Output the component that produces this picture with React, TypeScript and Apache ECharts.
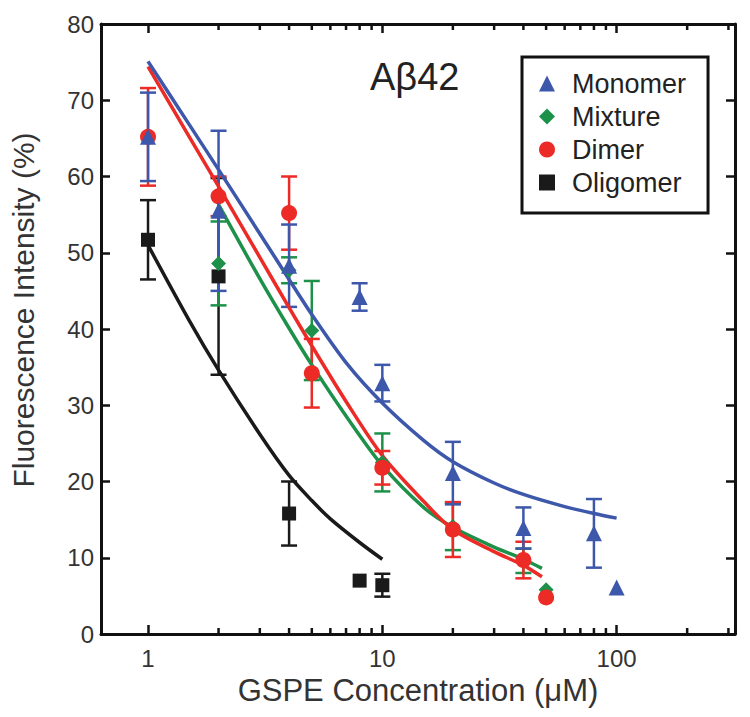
import React, { useEffect, useRef } from 'react';
import * as echarts from 'echarts';

const FONT = '"Liberation Sans", Arial, Helvetica, sans-serif';

const COLOR_MONOMER = '#3d57ab';
const COLOR_MIXTURE = '#1d9149';
const COLOR_DIMER = '#ec2a26';
const COLOR_OLIGOMER = '#1a1a1a';

// Measured points (concentration µM, fluorescence %, error)
const monomerConc = [1, 2, 4, 8, 10, 20, 40, 80, 100];
const monomerMean = [65.2, 55.5, 48.3, 44.2, 32.9, 21.1, 13.9, 13.2, 6.1];
const monomerErr = [5.8, 10.5, 5.4, 1.8, 2.4, 4.1, 2.7, 4.5, 0];

const mixtureConc = [2, 4, 5, 10, 20, 40, 50];
const mixtureMean = [48.6, 47.7, 39.8, 22.5, 14.1, 9.6, 5.8];
const mixtureErr = [5.5, 1.7, 6.5, 3.8, 3.1, 1.6, 0];

const dimerConc = [1, 2, 4, 5, 10, 20, 40, 50];
const dimerMean = [65.2, 57.4, 55.2, 34.2, 21.8, 13.7, 9.7, 4.8];
const dimerErr = [6.4, 2.6, 4.8, 4.5, 2.2, 3.6, 2.4, 0];

const oligomerConc = [1, 2, 4, 8, 10];
const oligomerMean = [51.7, 46.9, 15.8, 7.0, 6.4];
const oligomerErr = [5.2, 12.9, 4.2, 0, 1.5];

// Fitted curves
const monomerFitX = [1, 1.5, 2, 3, 4, 5, 7, 10, 15, 20, 30, 40, 60, 80, 100];
const monomerFitY = [75.1, 66.8, 60.9, 52.5, 46.5, 41.9, 35.6, 30.3, 25.4, 22.6, 19.8, 18.3, 16.7, 15.8, 15.2];

const dimerFitX = [1, 1.5, 2, 3, 4, 5, 7, 10, 15, 20, 30, 40, 48];
const dimerFitY = [74.4, 65.2, 58.7, 49.4, 42.8, 37.8, 30.5, 23.4, 17.4, 13.7, 10.8, 9.0, 7.5];

const mixtureFitX = [2, 3, 4, 5, 7, 10, 15, 20, 30, 40, 48];
const mixtureFitY = [56.3, 46.6, 40.1, 35.3, 28.6, 22.1, 16.6, 14.0, 11.4, 9.8, 8.6];

const oligomerFitX = [1, 1.5, 2, 3, 4, 5, 6, 8, 10];
const oligomerFitY = [51.0, 41.1, 34.6, 26.2, 20.8, 17.5, 15.1, 12.0, 9.8];

// Axis ticks
const yTicks = { min: 0, max: 80, interval: 10 };
const xRange = { min: 0.63, max: 320 };
const minorTickValues = [2, 3, 4, 5, 6, 7, 8, 9, 20, 30, 40, 50, 60, 70, 80, 90, 200, 300];

const zip = (xs: number[], ys: number[]) => xs.map((x, i) => [x, ys[i]]);

function errorSeries(name: string, xs: number[], ys: number[], es: number[], color: string) {
  return {
    type: 'custom',
    name: name + ' error',
    silent: true,
    z: 2,
    dimensions: ['x', 'y', 'e'],
    encode: { x: 0, y: 1 },
    data: xs.map((x, i) => [x, ys[i], es[i]]).filter((d) => d[2] > 0),
    renderItem: (params: any, api: any) => {
      const x = api.value(0);
      const y = api.value(1);
      const e = api.value(2);
      const top = api.coord([x, y + e]);
      const bot = api.coord([x, y - e]);
      const hw = 8;
      const style = { stroke: color, lineWidth: 2.5, fill: 'none' };
      return {
        type: 'group',
        children: [
          { type: 'line', shape: { x1: top[0], y1: top[1], x2: bot[0], y2: bot[1] }, style },
          { type: 'line', shape: { x1: top[0] - hw, y1: top[1], x2: top[0] + hw, y2: top[1] }, style },
          { type: 'line', shape: { x1: bot[0] - hw, y1: bot[1], x2: bot[0] + hw, y2: bot[1] }, style },
        ],
      };
    },
  };
}

function fitSeries(name: string, xs: number[], ys: number[], color: string) {
  return {
    type: 'line',
    name: name + ' fit',
    data: zip(xs, ys),
    smooth: 0.3,
    showSymbol: false,
    symbol: 'none',
    silent: true,
    z: 3,
    lineStyle: { color, width: 3.5 },
  };
}

function pointSeries(name: string, xs: number[], ys: number[], color: string, symbol: string, size: number) {
  return {
    type: 'scatter',
    name,
    data: zip(xs, ys),
    symbol,
    symbolSize: size,
    z: 4,
    itemStyle: { color, opacity: 1 },
  };
}

const isDecade = (v: number) => Math.abs(Math.log10(v) - Math.round(Math.log10(v))) < 1e-6;

export default function App() {
  const ref = useRef<HTMLDivElement>(null);
  useEffect(() => {
    const chart = echarts.init(ref.current!, null, { renderer: 'svg' });
    const axisLine = { show: true, onZero: false, lineStyle: { color: '#111', width: 3 } };
    const tickStyle = { color: '#111', width: 2.5 };
    const option: any = {
      animation: false,
      backgroundColor: '#fff',
      textStyle: { fontFamily: FONT },
      grid: { left: 99, right: 15, top: 24, bottom: 83, containLabel: false },
      xAxis: [
        {
          type: 'log',
          logBase: 10,
          min: xRange.min,
          max: xRange.max,
          position: 'bottom',
          axisLine,
          axisTick: { show: true, inside: true, length: 9, lineStyle: tickStyle },
          splitLine: { show: false },
          axisLabel: {
            fontSize: 24,
            color: '#333',
            fontFamily: FONT,
            margin: 12,
            formatter: (v: number) => (isDecade(v) ? String(Math.round(v)) : ''),
          },
          name: 'GSPE Concentration (\u03bcM)',
          nameLocation: 'middle',
          nameGap: 41,
          nameTextStyle: { fontSize: 31, color: '#333', fontFamily: FONT },
        },
        {
          type: 'log',
          logBase: 10,
          min: xRange.min,
          max: xRange.max,
          position: 'top',
          axisLine,
          axisTick: { show: true, inside: true, length: 9, lineStyle: tickStyle },
          splitLine: { show: false },
          axisLabel: { show: false },
        },
      ],
      yAxis: [
        {
          type: 'value',
          min: yTicks.min,
          max: yTicks.max,
          interval: yTicks.interval,
          position: 'left',
          axisLine,
          axisTick: { show: true, inside: true, length: 9, lineStyle: tickStyle },
          splitLine: { show: false },
          axisLabel: { fontSize: 24, color: '#333', fontFamily: FONT, margin: 7 },
          name: 'Fluorescence Intensity (%)',
          nameLocation: 'middle',
          nameGap: 63,
          nameTextStyle: { fontSize: 30, color: '#333', fontFamily: FONT, padding: [0, 0, 0, 38] },
        },
        {
          type: 'value',
          min: yTicks.min,
          max: yTicks.max,
          interval: yTicks.interval,
          position: 'right',
          axisLine,
          axisTick: { show: true, inside: true, length: 9, lineStyle: tickStyle },
          splitLine: { show: false },
          axisLabel: { show: false },
        },
      ],
      legend: {
        data: ['Monomer', 'Mixture', 'Dimer', 'Oligomer'],
        orient: 'vertical',
        left: 522,
        top: 57,
        itemWidth: 16,
        itemHeight: 16,
        itemGap: 6,
        padding: [13, 22, 17, 17],
        borderColor: '#111',
        borderWidth: 3,
        backgroundColor: '#fff',
        selectedMode: false,
        textStyle: { fontSize: 27, color: '#222', fontFamily: FONT, lineHeight: 27, padding: [0, 0, 0, 12] },
      },
      graphic: [
        {
          type: 'text',
          x: 370,
          y: 77,
          z: 100,
          style: { text: 'A\u03b242', fontSize: 38, fontFamily: FONT, fill: '#222', verticalAlign: 'middle' },
        },
      ],
      series: [
        {
          type: 'custom',
          name: 'minor ticks',
          silent: true,
          z: 5,
          data: minorTickValues.map((v) => [v, 0]),
          encode: { x: 0, y: 1 },
          clip: false,
          renderItem: (params: any, api: any) => {
            const v = api.value(0);
            const b = api.coord([v, yTicks.min]);
            const t = api.coord([v, yTicks.max]);
            const style = { stroke: '#111', lineWidth: 2.5 };
            return {
              type: 'group',
              children: [
                { type: 'line', shape: { x1: b[0], y1: b[1], x2: b[0], y2: b[1] - 6 }, style },
                { type: 'line', shape: { x1: t[0], y1: t[1], x2: t[0], y2: t[1] + 6 }, style },
              ],
            };
          },
        },
        errorSeries('Oligomer', oligomerConc, oligomerMean, oligomerErr, COLOR_OLIGOMER),
        errorSeries('Mixture', mixtureConc, mixtureMean, mixtureErr, COLOR_MIXTURE),
        errorSeries('Dimer', dimerConc, dimerMean, dimerErr, COLOR_DIMER),
        errorSeries('Monomer', monomerConc, monomerMean, monomerErr, COLOR_MONOMER),
        fitSeries('Oligomer', oligomerFitX, oligomerFitY, COLOR_OLIGOMER),
        fitSeries('Mixture', mixtureFitX, mixtureFitY, COLOR_MIXTURE),
        fitSeries('Dimer', dimerFitX, dimerFitY, COLOR_DIMER),
        fitSeries('Monomer', monomerFitX, monomerFitY, COLOR_MONOMER),
        pointSeries('Oligomer', oligomerConc, oligomerMean, COLOR_OLIGOMER, 'rect', 14),
        pointSeries('Mixture', mixtureConc, mixtureMean, COLOR_MIXTURE, 'diamond', 15),
        pointSeries('Dimer', dimerConc, dimerMean, COLOR_DIMER, 'circle', 16),
        pointSeries('Monomer', monomerConc, monomerMean, COLOR_MONOMER, 'triangle', 16),
      ],
    };
    chart.setOption(option);
    return () => chart.dispose();
  }, []);
  return (
    <div
      ref={ref}
      style={{ position: 'fixed', left: 0, top: 0, width: 750, height: 717, background: '#fff' }}
    />
  );
}
